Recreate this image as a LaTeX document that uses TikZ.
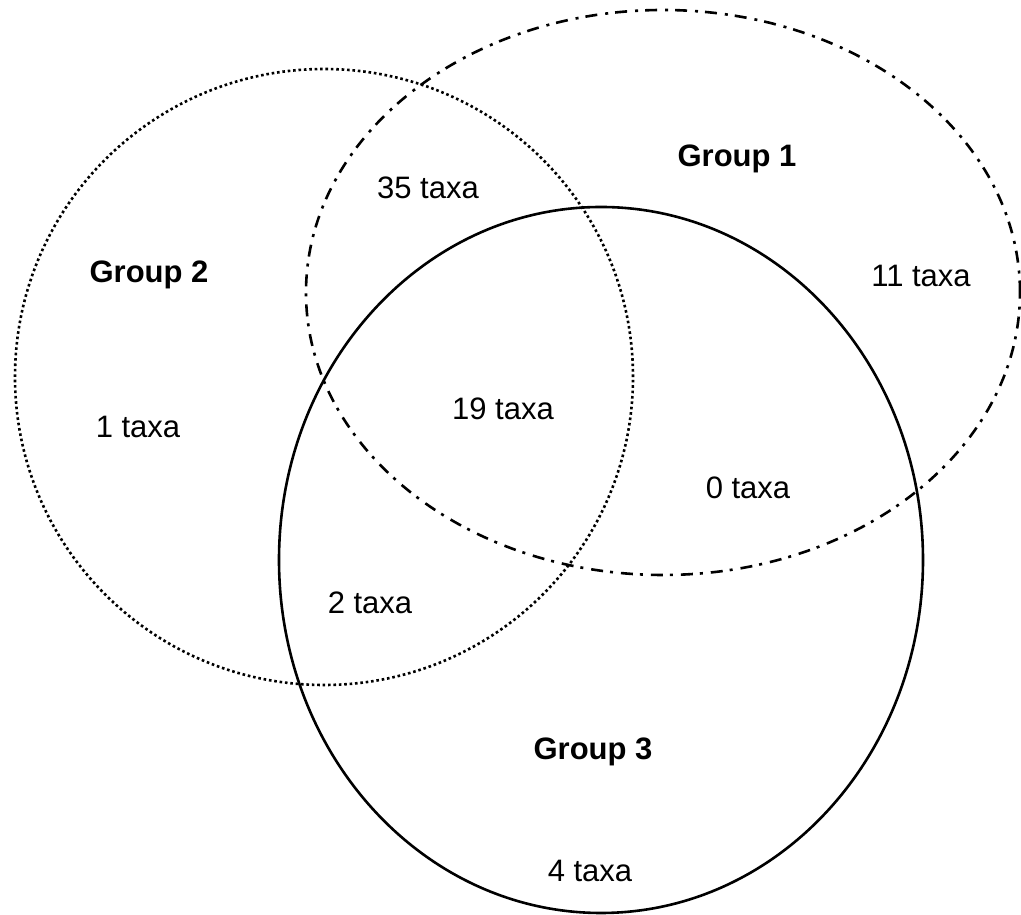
\documentclass[tikz,border=0pt]{standalone}
\usepackage{fontspec}
\setmainfont{Liberation Sans}
\tikzset{
  x=1pt, y=1pt,
  setline/.style={line width=2.6pt, black},
  grpone/.style={setline, dash pattern=on 12pt off 7pt on 3pt off 8pt},
  grptwo/.style={setline, line width=2.6pt, dash pattern=on 2.6pt off 2.8pt},
  grpthree/.style={setline},
  lbl/.style={font=\fontsize{31}{37}\selectfont, inner sep=0pt, anchor=center},
  glbl/.style={lbl, font=\fontsize{31}{37}\selectfont\bfseries},
}
\begin{document}
\begin{tikzpicture}
\useasboundingbox (0,0) rectangle (1021,915);
% Group 1 (dash-dot)
\draw[grpone] (663,622.5) ellipse [x radius=357, y radius=282.5];
% Group 2 (dotted)
\draw[grptwo] (324,538) ellipse [x radius=309, y radius=308];
% Group 3 (solid)
\draw[grpthree] (601,355) ellipse [x radius=322, y radius=353];
% labels
\node[glbl] (g1) at (737,756.5) {Group 1};
\node[glbl] (g2) at (149,640) {Group 2};
\node[glbl] (g3) at (593,163) {Group 3};
\node[lbl] (t35) at (428,727) {35 taxa};
\node[lbl] (t11) at (921,639) {11 taxa};
\node[lbl] (t1) at (138,488) {1 taxa};
\node[lbl] (t19) at (503,506) {19 taxa};
\node[lbl] (t0) at (748,427) {0 taxa};
\node[lbl] (t2) at (370,312) {2 taxa};
\node[lbl] (t4) at (590,44) {4 taxa};
\end{tikzpicture}
\end{document}
